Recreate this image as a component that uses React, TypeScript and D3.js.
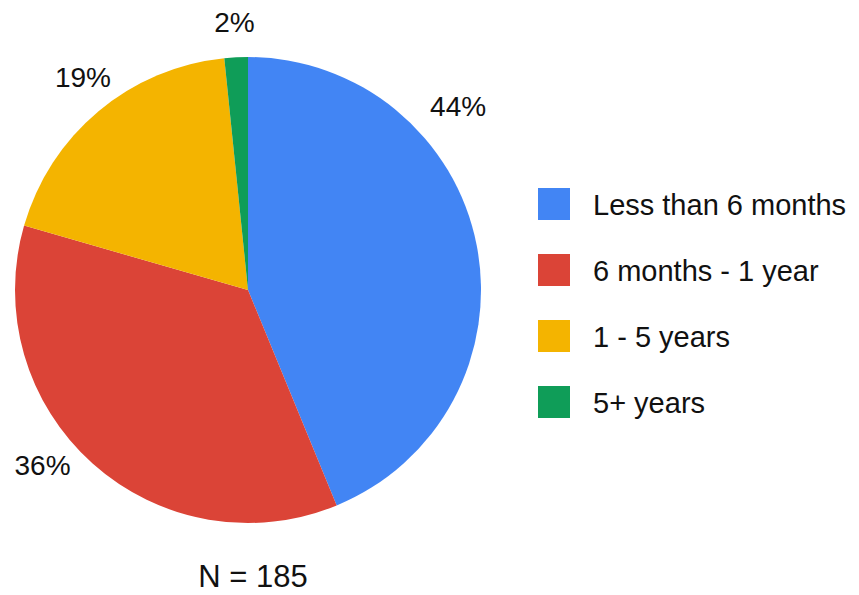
import React from "react";
import * as d3 from "d3";

const categories = ["Less than 6 months", "6 months - 1 year", "1 - 5 years", "5+ years"];
const counts = [81, 66, 35, 3];
const percentLabels = ["44%", "36%", "19%", "2%"];
const colors = ["#4285F4", "#DB4437", "#F4B400", "#0F9D58"];
const footnote = "N = 185";

const W = 859;
const H = 595;
const cx = 248;
const cy = 290;
const R = 233;
const FONT = "Arial, 'Liberation Sans', sans-serif";

// label placement along each slice (fraction of the slice's sweep) and distance from the centre
const labelFrac = [0.31, 0.56, 0.53, 0.5];
const labelDist = [279, 270, 269, 268];

export default function App() {
  const pie = d3.pie<number>().sort(null).value((d) => d)(counts);
  const arc = d3.arc<d3.PieArcDatum<number>>().innerRadius(0).outerRadius(R);

  const legendY = d3.scalePoint<string>().domain(categories).range([204, 402]);

  return (
    <svg
      width={W}
      height={H}
      style={{ position: "absolute", left: 0, top: 0, background: "#fff" }}
      fontFamily={FONT}
    >
      <g transform={`translate(${cx},${cy})`}>
        {pie.map((p, i) => (
          <path key={i} d={arc(p) || ""} fill={colors[i]} />
        ))}
        {pie.map((p, i) => {
          const a = p.startAngle + (p.endAngle - p.startAngle) * labelFrac[i];
          const x = Math.sin(a) * labelDist[i];
          const y = -Math.cos(a) * labelDist[i];
          return (
            <text
              key={i}
              x={x}
              y={y}
              textAnchor="middle"
              dominantBaseline="central"
              fontSize={28}
              fill="#111"
            >
              {percentLabels[i]}
            </text>
          );
        })}
      </g>
      {categories.map((c) => (
        <g key={c} transform={`translate(538,${legendY(c)})`}>
          <rect x={0} y={-16} width={32} height={32} fill={colors[categories.indexOf(c)]} />
          <text x={55} y={11} fontSize={29} fill="#111">
            {c}
          </text>
        </g>
      ))}
      <text x={cx + 5} y={587} textAnchor="middle" fontSize={31} fill="#111">
        {footnote}
      </text>
    </svg>
  );
}
